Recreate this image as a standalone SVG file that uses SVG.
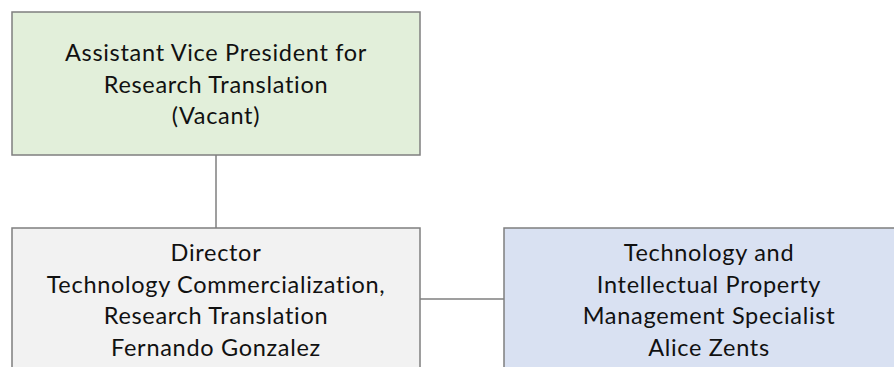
<svg xmlns="http://www.w3.org/2000/svg" width="894" height="367" viewBox="0 0 894 367">
<style>
.box{stroke:#7f7f7f;stroke-width:1.5}
.t{font-family:Lato,"Liberation Sans",sans-serif;font-size:23.5px;letter-spacing:0.7px;fill:#111;text-anchor:middle}
.c{stroke:#7f7f7f;stroke-width:1.5;fill:none}
</style>
<rect width="894" height="367" fill="#fff"/>
<g id="connectors">
<line class="c" x1="216" y1="155" x2="216" y2="228"/>
<line class="c" x1="420" y1="299" x2="504" y2="299"/>
</g>
<g id="avp">
<rect class="box" x="12" y="12" width="408" height="143" fill="#e2efda"/>
<text class="t" x="216" y="61">Assistant Vice President for</text>
<text class="t" x="216" y="92.5">Research Translation</text>
<text class="t" x="216" y="124">(Vacant)</text>
</g>
<g id="director">
<rect class="box" x="12" y="228" width="408" height="150" fill="#f2f2f2"/>
<text class="t" x="216" y="261">Director</text>
<text class="t" x="216" y="292.5">Technology Commercialization,</text>
<text class="t" x="216" y="324">Research Translation</text>
<text class="t" x="216" y="355.5">Fernando Gonzalez</text>
</g>
<g id="specialist">
<rect class="box" x="504" y="228" width="410" height="150" fill="#d9e1f2"/>
<text class="t" x="709" y="261">Technology and</text>
<text class="t" x="709" y="292.5">Intellectual Property</text>
<text class="t" x="709" y="324">Management Specialist</text>
<text class="t" x="709" y="355.5">Alice Zents</text>
</g>
</svg>
